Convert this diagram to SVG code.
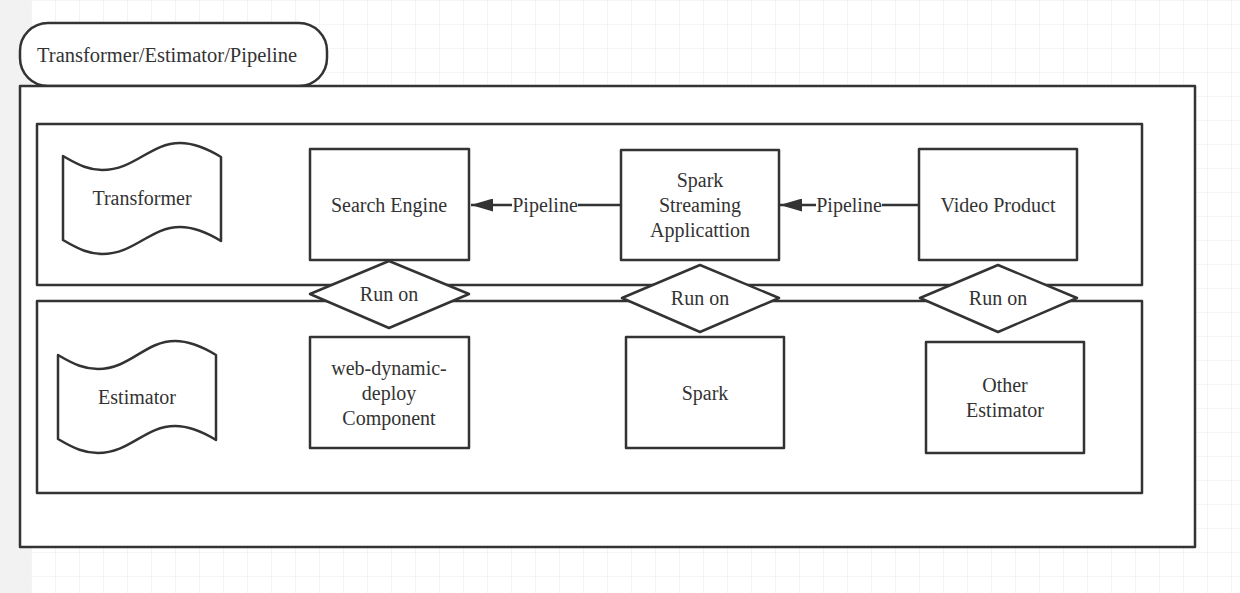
<svg xmlns="http://www.w3.org/2000/svg" width="1240" height="593" viewBox="0 0 1240 593">
<defs>
<pattern id="grid" x="7" y="0" width="24" height="24" patternUnits="userSpaceOnUse">
<path d="M0 0H24M0 0V24" fill="none" stroke="#ececec" stroke-width="1.2"/>
</pattern>
<marker id="arr" viewBox="0 0 22 13" refX="22" refY="6.5" markerWidth="22" markerHeight="13" markerUnits="userSpaceOnUse" orient="auto">
<path d="M22 6.5L0 0V13Z" fill="#333"/>
</marker>
<style>
.s{fill:#fff;stroke:#333;stroke-width:2.5;stroke-linejoin:round}
.c{fill:none;stroke:#333;stroke-width:2.5}
text{font-family:"Liberation Serif","Times New Roman",serif;font-size:20px;fill:#333;text-anchor:middle;dominant-baseline:central}
.lbl{fill:#fff}
</style>
</defs>
<rect width="1240" height="593" fill="#fff"/>
<rect x="31" width="1209" height="593" fill="url(#grid)"/>
<rect width="31" height="593" fill="#f2f2f2"/>

<g id="title">
<rect class="s" x="20" y="23" width="307" height="63" rx="28"/>
<text x="37" y="55" style="text-anchor:start;font-size:20.5px">Transformer/Estimator/Pipeline</text>
</g>
<g id="container">
<rect class="s" x="20" y="86" width="1175" height="461"/>
</g>
<g id="transformer-band">
<rect class="s" x="37" y="124" width="1105" height="161"/>
</g>
<g id="estimator-band">
<rect class="s" x="37" y="301" width="1105" height="192"/>
</g>

<g id="transformer">
<path class="s" d="M63 156C80 166 90 170 102 170C135 170 150 143 180 143C195 143 208 149 221 157V241C208 233 195 227 180 227C150 227 135 254 102 254C90 254 80 250 63 240Z"/>
<text x="142" y="198">Transformer</text>
</g>
<g id="estimator">
<path class="s" d="M58 355C75 365 85 369 98 369C130 369 145 341 175 341C190 341 203 347 216 355V440C203 432 190 426 175 426C145 426 130 453 98 453C85 453 75 449 58 439Z"/>
<text x="137" y="397">Estimator</text>
</g>

<g id="search-engine">
<rect class="s" x="310" y="149" width="159" height="111"/>
<text x="389" y="205">Search Engine</text>
</g>
<g id="spark-streaming">
<rect class="s" x="621" y="150" width="158" height="110"/>
<text x="700" y="180">Spark</text>
<text x="700" y="205">Streaming</text>
<text x="700" y="230">Applicattion</text>
</g>
<g id="video-product">
<rect class="s" x="919" y="149" width="158" height="111"/>
<text x="998" y="205">Video Product</text>
</g>

<g id="run-on-1">
<path class="s" d="M389 261L469 294L389 328L310 294Z"/>
<text x="389" y="294">Run on</text>
</g>
<g id="run-on-2">
<path class="s" d="M700 265L779 298L700 332L622 298Z"/>
<text x="700" y="298">Run on</text>
</g>
<g id="run-on-3">
<path class="s" d="M998 265L1077 298L998 332L920 298Z"/>
<text x="998" y="298">Run on</text>
</g>

<g id="web-dynamic-deploy">
<rect class="s" x="310" y="337" width="159" height="111"/>
<text x="389" y="368">web-dynamic-</text>
<text x="389" y="393">deploy</text>
<text x="389" y="418">Component</text>
</g>
<g id="spark">
<rect class="s" x="626" y="337" width="158" height="111"/>
<text x="705" y="393">Spark</text>
</g>
<g id="other-estimator">
<rect class="s" x="926" y="342" width="158" height="111"/>
<text x="1005" y="385">Other</text>
<text x="1005" y="410">Estimator</text>
</g>

<g id="connectors">
<path class="c" d="M621 205H471" marker-end="url(#arr)"/>
<rect class="lbl" x="512" y="194" width="66" height="22"/>
<text x="545" y="205">Pipeline</text>
<path class="c" d="M919 205H780" marker-end="url(#arr)"/>
<rect class="lbl" x="816" y="194" width="66" height="22"/>
<text x="849" y="205">Pipeline</text>
</g>
</svg>
